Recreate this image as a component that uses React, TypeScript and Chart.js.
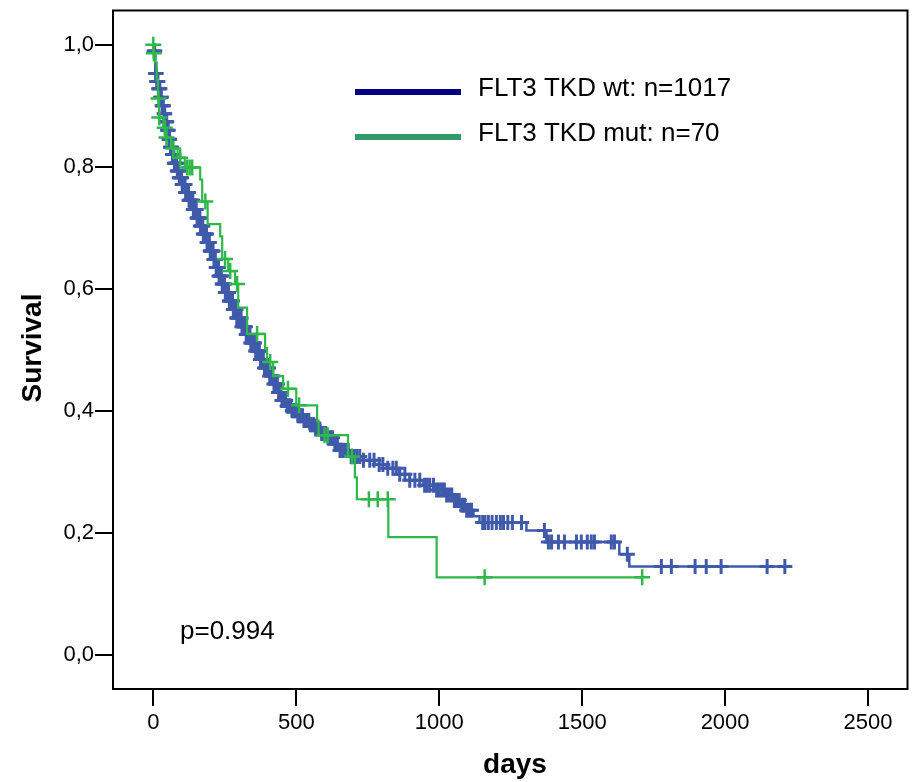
import React, { useEffect, useRef } from "react";
import { Chart, registerables } from "chart.js";

Chart.register(...registerables);

// ---- data ----
const xTicks = [0, 500, 1000, 1500, 2000, 2500];
const yTicks = [0, 0.2, 0.4, 0.6, 0.8, 1.0];

const seriesNames = ["FLT3 TKD wt: n=1017", "FLT3 TKD mut: n=70"];
const pValueText = "p=0.994";
const xTitle = "days";
const yTitle = "Survival";

// FLT3 TKD wt: step times (days) and survival after each step
const wtTimes = [
  0, 2, 7, 12, 18, 24, 30, 36, 42, 48, 55, 60, 65, 73, 82, 91, 101, 113, 125,
  139, 153, 164, 175, 187, 199, 210, 220, 230, 240, 252, 265, 278, 292, 308, 325,
  340, 356, 372, 388, 404, 420, 435, 450, 467, 485, 504, 524, 545, 565, 586, 607,
  630, 653, 690, 733, 775, 816, 860, 897, 945, 991, 1020, 1047, 1075, 1096, 1120,
  1141, 1305, 1375, 1630, 1665, 2209,
];
const wtSurv = [
  1.0, 0.99, 0.953, 0.94, 0.928, 0.914, 0.9, 0.887, 0.874, 0.86, 0.845, 0.832,
  0.82, 0.806, 0.793, 0.782, 0.771, 0.758, 0.745, 0.73, 0.716, 0.703, 0.69, 0.676,
  0.662, 0.648, 0.635, 0.621, 0.608, 0.594, 0.58, 0.566, 0.552, 0.538, 0.525,
  0.511, 0.498, 0.484, 0.47, 0.457, 0.444, 0.43, 0.417, 0.408, 0.4, 0.392, 0.384,
  0.377, 0.37, 0.363, 0.356, 0.345, 0.335, 0.325, 0.319, 0.312, 0.306, 0.296,
  0.286, 0.278, 0.27, 0.262, 0.253, 0.245, 0.237, 0.227, 0.217, 0.204, 0.185,
  0.165, 0.145, 0.145,
];
// censored times (days)
const wtCensor = [
  3, 5, 8, 10, 12, 14, 16, 19, 21, 23, 26, 28, 31, 33, 35, 38, 40, 43, 45, 47,
  50, 52, 55, 57, 60, 62, 64, 67, 69, 72, 74, 77, 79, 81, 84, 86, 89, 91, 94, 96,
  99, 101, 103, 106, 108, 111, 113, 116, 118, 121, 123, 125, 128, 130, 133, 135,
  138, 140, 143, 145, 148, 150, 153, 155, 158, 160, 163, 165, 168, 170, 173, 175,
  178, 180, 183, 186, 188, 191, 193, 196, 199, 201, 204, 206, 209, 212, 214, 217,
  220, 222, 225, 228, 230, 233, 236, 238, 241, 244, 247, 249, 252, 255, 258, 260,
  263, 266, 269, 272, 274, 277, 280, 283, 286, 289, 292, 295, 298, 301, 304, 307,
  310, 313, 316, 319, 322, 325, 328, 331, 335, 338, 341, 344, 348, 351, 354, 358,
  361, 364, 368, 371, 375, 378, 382, 385, 389, 392, 396, 400, 403, 407, 411, 414,
  418, 422, 426, 430, 434, 438, 442, 446, 450, 454, 459, 463, 468, 472, 477, 481,
  486, 491, 496, 501, 506, 511, 516, 522, 527, 533, 538, 544, 550, 556, 562, 568,
  575, 582, 589, 596, 603, 611, 619, 627, 635, 644, 653, 662, 672, 682, 692, 702,
  712, 722, 735, 757, 772, 790, 803, 820, 838, 850, 862, 880, 897, 915, 932, 949,
  958, 967, 980, 991, 1000, 1009, 1018, 1026, 1035, 1044, 1053, 1061, 1070, 1079,
  1088, 1096, 1105, 1113, 1152, 1160, 1172, 1185, 1200, 1214, 1225, 1240, 1256,
  1288, 1368, 1382, 1393, 1417, 1438, 1480, 1497, 1518, 1532, 1543, 1602, 1613,
  1658, 1777, 1812, 1895, 1934, 1986, 2147, 2209,
];

// FLT3 TKD mut
const mutTimes = [
  0, 1, 6, 12, 16, 20, 35, 43, 62, 85, 110, 164, 171, 190, 234, 241, 262, 286,
  297, 328, 391, 398, 419, 454, 500, 573, 578, 681, 705, 712, 822, 991, 1710,
];
const mutSurv = [
  1.0, 0.986, 0.971, 0.943, 0.912, 0.881, 0.864, 0.848, 0.83, 0.815, 0.799,
  0.779, 0.743, 0.706, 0.686, 0.649, 0.629, 0.608, 0.569, 0.526, 0.503, 0.48,
  0.457, 0.436, 0.409, 0.384, 0.36, 0.325, 0.291, 0.255, 0.193, 0.127, 0.127,
];
const mutCensor = [
  0, 2, 18, 21, 40, 46, 70, 94, 118, 127, 136, 182, 251, 269, 293, 363, 409,
  471, 510, 599, 610, 695, 754, 785, 820, 1159, 1710,
];

// ---- helpers ----
function survivalAt(times: number[], surv: number[], t: number): number {
  let s = surv[0];
  for (let i = 0; i < times.length; i++) {
    if (times[i] <= t) s = surv[i];
  }
  return s;
}

const FONT = '"Liberation Sans", Arial, Helvetica, sans-serif';
const BLUE = "#3F5AAB";
const GREEN = "#2FB84A";

const overlayPlugin = {
  id: "overlay",
  afterDraw(chart: any) {
    const { ctx, chartArea: a } = chart;
    ctx.save();
    // frame
    ctx.strokeStyle = "#000";
    ctx.lineWidth = 2;
    ctx.strokeRect(a.left, a.top, a.right - a.left, a.bottom - a.top);

    // legend
    ctx.lineCap = "butt";
    ctx.lineWidth = 6;
    ctx.strokeStyle = "#000080";
    ctx.beginPath();
    ctx.moveTo(355, 92);
    ctx.lineTo(461, 92);
    ctx.stroke();
    ctx.strokeStyle = "#339966";
    ctx.beginPath();
    ctx.moveTo(355, 137);
    ctx.lineTo(461, 137);
    ctx.stroke();

    ctx.fillStyle = "#000";
    ctx.font = `26px ${FONT}`;
    ctx.textAlign = "left";
    ctx.textBaseline = "alphabetic";
    ctx.fillText(seriesNames[0], 478, 96);
    ctx.fillText(seriesNames[1], 478, 141);

    // p-value
    ctx.fillText(pValueText, 180, 639);

    // axis titles
    ctx.font = `bold 28px ${FONT}`;
    ctx.textAlign = "center";
    ctx.fillText(xTitle, 515, 773);
    ctx.save();
    ctx.translate(41, 348);
    ctx.rotate(-Math.PI / 2);
    ctx.fillText(yTitle, 0, 0);
    ctx.restore();

    ctx.restore();
  },
};

export default function App() {
  const ref = useRef<HTMLCanvasElement | null>(null);

  useEffect(() => {
    if (!ref.current) return;
    const wtLine = wtTimes.map((t, i) => ({ x: t, y: wtSurv[i] }));
    const mutLine = mutTimes.map((t, i) => ({ x: t, y: mutSurv[i] }));
    const wtMarks = wtCensor.map((t) => ({ x: t, y: survivalAt(wtTimes, wtSurv, t) }));
    const mutMarks = mutCensor.map((t) => ({ x: t, y: survivalAt(mutTimes, mutSurv, t) }));

    const chart = new Chart(ref.current, {
      type: "scatter",
      data: {
        datasets: [
          {
            type: "line",
            label: seriesNames[1] + " censored",
            data: mutMarks,
            showLine: false,
            pointStyle: "cross",
            pointRadius: 8,
            pointBorderWidth: 2.5,
            pointBorderColor: GREEN,
            borderColor: GREEN,
            order: 1,
          } as any,
          {
            type: "line",
            label: seriesNames[1],
            data: mutLine,
            stepped: true,
            borderColor: GREEN,
            borderWidth: 2.2,
            pointRadius: 0,
            fill: false,
            order: 2,
          } as any,
          {
            type: "line",
            label: seriesNames[0] + " censored",
            data: wtMarks,
            showLine: false,
            pointStyle: "cross",
            pointRadius: 7.5,
            pointBorderWidth: 3,
            pointBorderColor: BLUE,
            borderColor: BLUE,
            order: 3,
          } as any,
          {
            type: "line",
            label: seriesNames[0],
            data: wtLine,
            stepped: true,
            borderColor: BLUE,
            borderWidth: 2.5,
            pointRadius: 0,
            fill: false,
            order: 4,
          } as any,
        ],
      },
      options: {
        animation: false,
        responsive: false,
        events: [],
        layout: { padding: { top: 8, right: 5, left: 0, bottom: 0 } },
        plugins: { legend: { display: false }, tooltip: { enabled: false } },
        scales: {
          x: {
            type: "linear",
            min: -141,
            max: 2638,
            afterBuildTicks: (s: any) => {
              s.ticks = xTicks.map((v) => ({ value: v }));
            },
            afterFit: (s: any) => {
              s.height = 93;
              s.paddingLeft = 0;
              s.paddingRight = 0;
              s.paddingTop = 0;
              s.paddingBottom = 0;
            },
            ticks: {
              color: "#000",
              font: { family: FONT, size: 22 },
              padding: 4,
              maxRotation: 0,
              autoSkip: false,
              callback: (v: any) => String(v),
            },
            grid: {
              drawOnChartArea: false,
              drawTicks: true,
              tickLength: 17,
              color: "#000",
              lineWidth: 2,
            },
            border: { display: false },
          },
          y: {
            type: "linear",
            min: -0.056,
            max: 1.0562,
            afterBuildTicks: (s: any) => {
              s.ticks = yTicks.map((v) => ({ value: v }));
            },
            afterFit: (s: any) => {
              s.width = 113;
              s.paddingLeft = 0;
              s.paddingRight = 0;
              s.paddingTop = 0;
              s.paddingBottom = 0;
            },
            ticks: {
              color: "#000",
              font: { family: FONT, size: 22 },
              padding: 1,
              autoSkip: false,
              callback: (v: any) => Number(v).toFixed(1).replace(".", ","),
            },
            grid: {
              drawOnChartArea: false,
              drawTicks: true,
              tickLength: 18,
              color: "#000",
              lineWidth: 2,
            },
            border: { display: false },
          },
        },
      },
      plugins: [overlayPlugin],
    });
    return () => chart.destroy();
  }, []);

  return (
    <div style={{ position: "fixed", left: 0, top: 0, width: 918, height: 782, background: "#fff" }}>
      <canvas ref={ref} width={918} height={782} style={{ width: 918, height: 782, display: "block" }} />
    </div>
  );
}
